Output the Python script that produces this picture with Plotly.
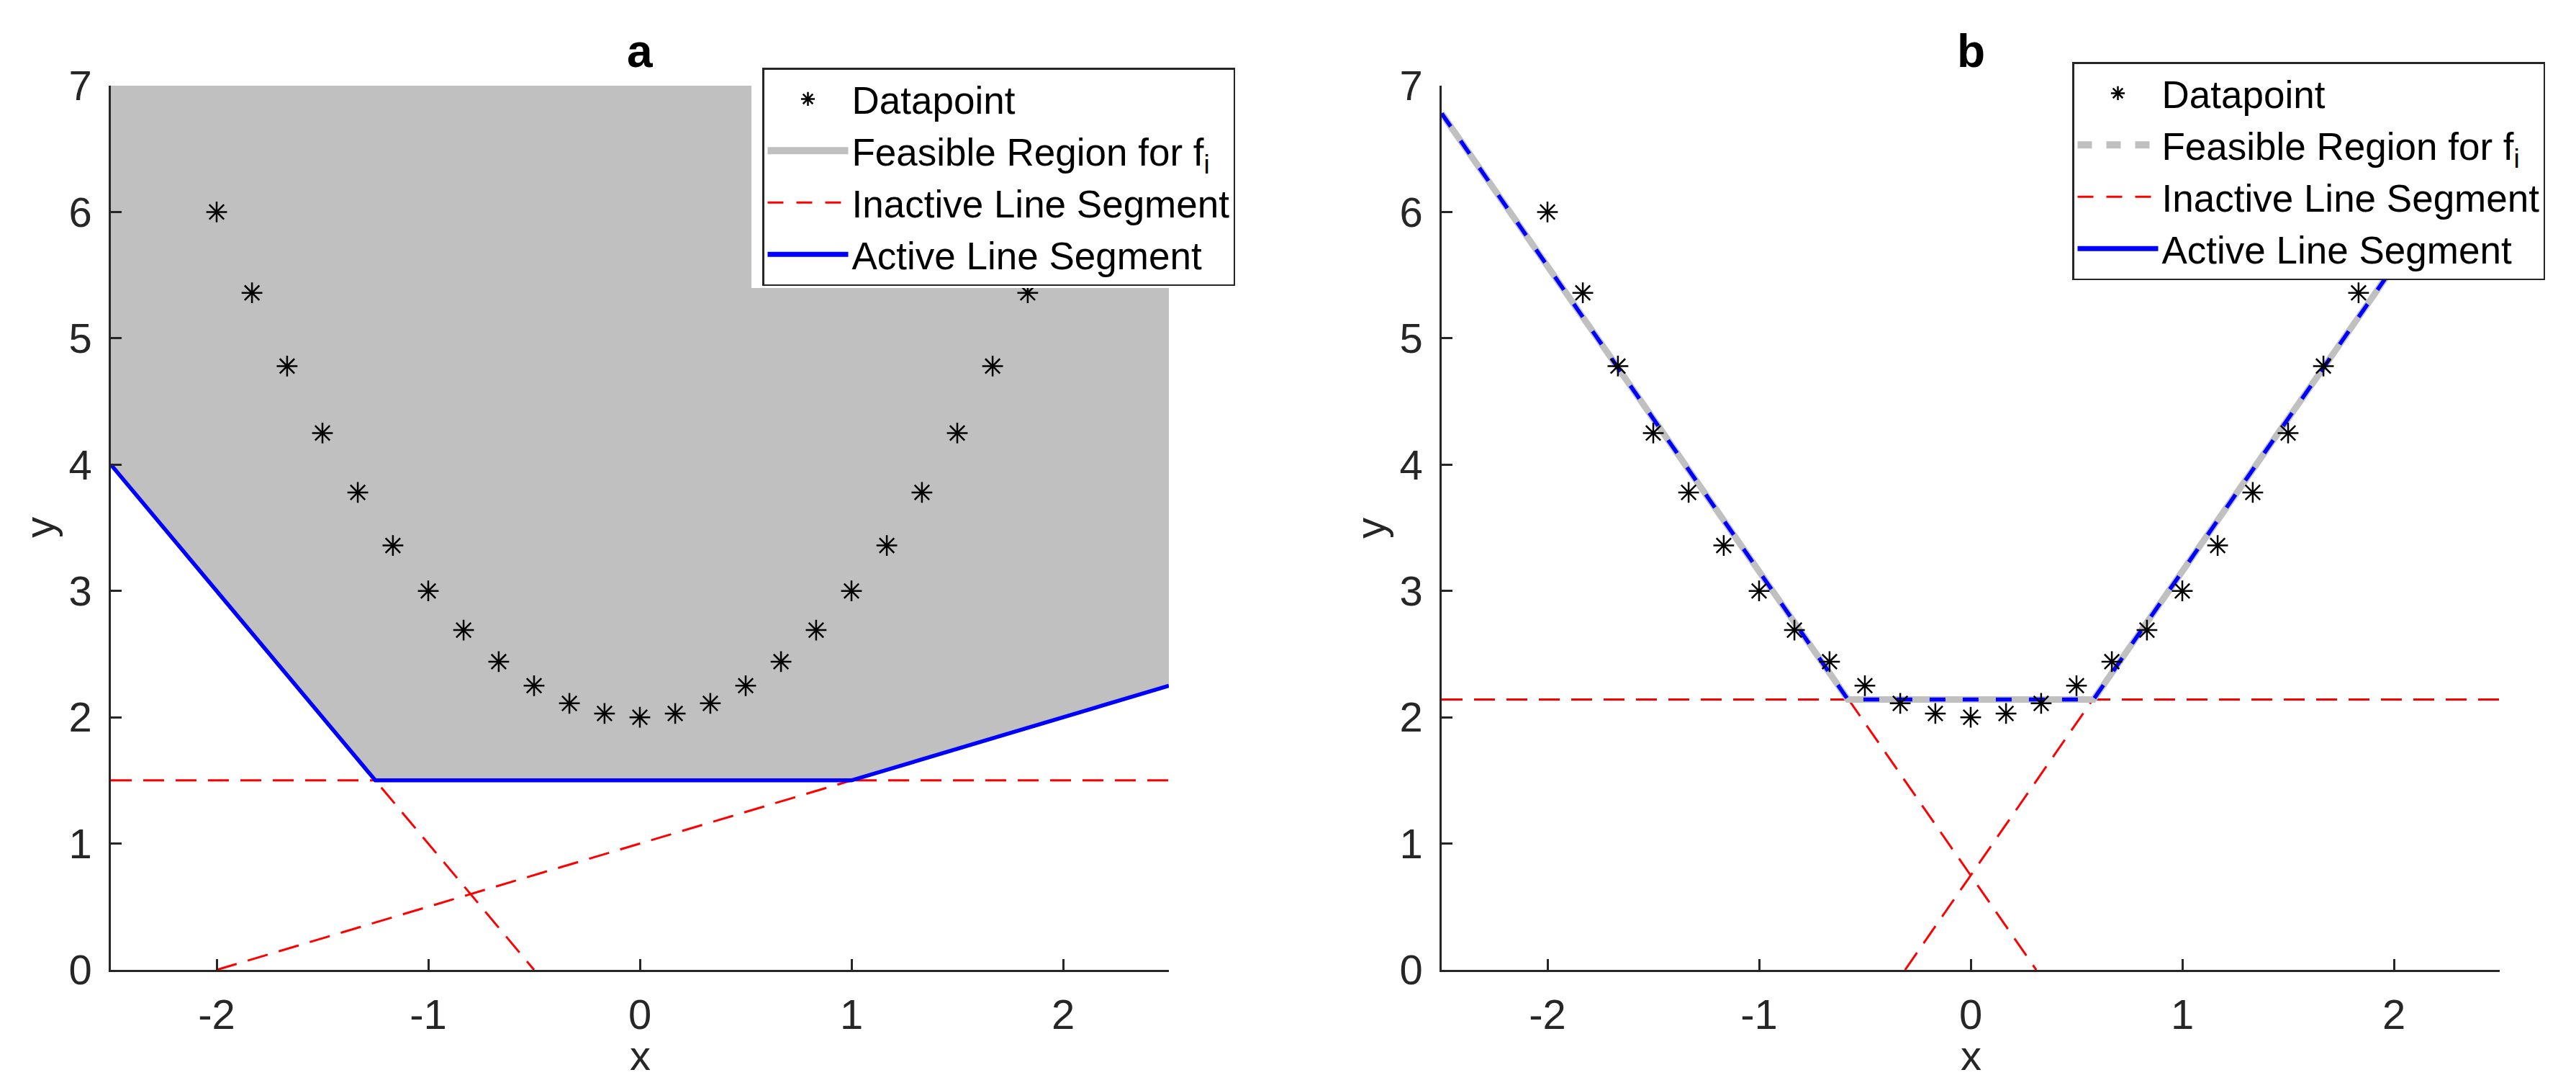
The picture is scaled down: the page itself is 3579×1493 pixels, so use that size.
import plotly.graph_objects as go

# datapoints (same in both panels)
x_data = [-2, -1.833, -1.667, -1.5, -1.333, -1.167, -1, -0.833, -0.667, -0.5, -0.333, -0.167, 0,
          0.167, 0.333, 0.5, 0.667, 0.833, 1, 1.167, 1.333, 1.5, 1.667, 1.833, 2]
y_data = [6, 5.36, 4.78, 4.25, 3.78, 3.36, 3, 2.69, 2.44, 2.25, 2.11, 2.03, 2,
          2.03, 2.11, 2.25, 2.44, 2.69, 3, 3.36, 3.78, 4.25, 4.78, 5.36, 6]

# panel a
a_region_x = [-2.5, -1.25, 1, 2.5, 2.5, -2.5]
a_region_y = [4, 1.5, 1.5, 2.25, 7, 7]
a_inactive_x = [-2.5, 2.5, None, -2.5, -0.5, None, -2, 2.5]
a_inactive_y = [1.5, 1.5, None, 4, 0, None, 0, 2.25]
a_active_x = [-2.5, -1.25, 1, 2.5]
a_active_y = [4, 1.5, 1.5, 2.25]

# panel b
b_inactive_x = [-2.5, 2.5, None, -2.5, 0.31, None, -0.31, 2.5]
b_inactive_y = [2.14, 2.14, None, 6.78, 0, None, 0, 6.78]
b_active_x = [-2.5, -0.58, 0.58, 2.5]
b_active_y = [6.78, 2.14, 2.14, 6.78]

x_ticks = [-2, -1, 0, 1, 2]
x_ticktext = ['-2', '-1', '0', '1', '2']
y_ticks = [0, 1, 2, 3, 4, 5, 6, 7]

labels = ['Datapoint', 'Feasible Region for f<sub>i</sub>', 'Inactive Line Segment', 'Active Line Segment']

W, H = 3579, 1493
FONT = 'Liberation Sans, Arial, sans-serif'
AX = '#262626'
GRAY = '#C0C0C0'
star = dict(symbol='asterisk-open', size=24, color='black', line=dict(color='black', width=2.5))

fig = go.Figure()

# ---- panel a ----
fig.add_trace(go.Scatter(x=a_region_x, y=a_region_y, fill='toself', fillcolor=GRAY,
                         mode='none', showlegend=False, xaxis='x', yaxis='y'))
fig.add_trace(go.Scatter(x=a_inactive_x, y=a_inactive_y, mode='lines',
                         line=dict(color='red', width=3, dash='29px,16px'),
                         showlegend=False, xaxis='x', yaxis='y'))
fig.add_trace(go.Scatter(x=a_active_x, y=a_active_y, mode='lines',
                         line=dict(color='blue', width=5.5),
                         showlegend=False, xaxis='x', yaxis='y'))
fig.add_trace(go.Scatter(x=x_data, y=y_data, mode='markers', name=labels[0], marker=star,
                         legend='legend', legendrank=1, xaxis='x', yaxis='y'))
fig.add_trace(go.Scatter(x=[None], y=[None], mode='lines', name=labels[1],
                         line=dict(color=GRAY, width=10), legend='legend', legendrank=2))
fig.add_trace(go.Scatter(x=[None], y=[None], mode='lines', name=labels[2],
                         line=dict(color='red', width=3, dash='22px,18px'), legend='legend', legendrank=3))
fig.add_trace(go.Scatter(x=[None], y=[None], mode='lines', name=labels[3],
                         line=dict(color='blue', width=7), legend='legend', legendrank=4))

# ---- panel b ----
fig.add_trace(go.Scatter(x=b_inactive_x, y=b_inactive_y, mode='lines',
                         line=dict(color='red', width=3, dash='29px,16px'),
                         showlegend=False, xaxis='x2', yaxis='y2'))
fig.add_trace(go.Scatter(x=b_active_x, y=b_active_y, mode='lines',
                         line=dict(color=GRAY, width=9),
                         showlegend=False, xaxis='x2', yaxis='y2'))
fig.add_trace(go.Scatter(x=b_active_x, y=b_active_y, mode='lines',
                         line=dict(color='blue', width=5.5, dash='22px,24px'),
                         showlegend=False, xaxis='x2', yaxis='y2'))
fig.add_trace(go.Scatter(x=x_data, y=y_data, mode='markers', name=labels[0], marker=star,
                         legend='legend2', legendrank=1, xaxis='x2', yaxis='y2'))
fig.add_trace(go.Scatter(x=[None], y=[None], mode='lines', name=labels[1], xaxis='x2', yaxis='y2',
                         line=dict(color=GRAY, width=10, dash='20px,20px'), legend='legend2', legendrank=2))
fig.add_trace(go.Scatter(x=[None], y=[None], mode='lines', name=labels[2], xaxis='x2', yaxis='y2',
                         line=dict(color='red', width=3, dash='22px,18px'), legend='legend2', legendrank=3))
fig.add_trace(go.Scatter(x=[None], y=[None], mode='lines', name=labels[3], xaxis='x2', yaxis='y2',
                         line=dict(color='blue', width=7), legend='legend2', legendrank=4))


def xax(dom, anchor):
    return dict(domain=dom, anchor=anchor, range=[-2.5, 2.5], tickvals=x_ticks, ticktext=x_ticktext,
                ticks='inside', ticklen=15, tickwidth=2.5, tickcolor=AX,
                showline=True, linewidth=2.5, linecolor=AX, showgrid=False, zeroline=False,
                tickfont=dict(family=FONT, size=58, color=AX), ticklabelstandoff=10)


def yax(anchor):
    return dict(domain=[154 / H, 1382 / H], anchor=anchor, range=[0, 7], tickvals=y_ticks,
                ticks='inside', ticklen=15, tickwidth=2.5, tickcolor=AX,
                showline=True, linewidth=2.5, linecolor=AX, showgrid=False, zeroline=False,
                tickfont=dict(family=FONT, size=58, color=AX), ticklabelstandoff=12)


def note(text, x, y, size=58, color=AX, angle=0, yanchor='middle'):
    return dict(text=text, x=x, y=y, xref='paper', yref='paper', showarrow=False, textangle=angle,
                xanchor='center', yanchor=yanchor, font=dict(family=FONT, size=size, color=color))


legend_style = dict(xanchor='left', yanchor='top', bgcolor='white', bordercolor=AX, borderwidth=2.5,
                    font=dict(family=FONT, size=53, color='black'), itemwidth=112, tracegroupgap=0)

fig.update_layout(
    template='none',
    width=W, height=H,
    margin=dict(l=0, r=0, t=0, b=0),
    paper_bgcolor='white', plot_bgcolor='white',
    xaxis=xax([146 / W, 1616 / W], 'y'),
    yaxis=yax('x'),
    xaxis2=xax([1995 / W, 3465 / W], 'y2'),
    yaxis2=yax('x2'),
    legend=dict(x=1051 / W, y=1 - 86 / H, **legend_style),
    legend2=dict(x=2871 / W, y=1 - 78 / H, **legend_style),
    shapes=[dict(type='rect', xref='paper', yref='paper', x0=1036 / W, x1=1622 / W,
                 y0=1 - 392 / H, y1=1, fillcolor='white', line=dict(width=0), layer='above')],
    annotations=[
        note('<b>a</b>', 881 / W, 1 - 63 / H, size=64, color='black'),
        note('<b>b</b>', 2730 / W, 1 - 63 / H, size=64, color='black'),
        note('x', 881 / W, 0.001, yanchor='bottom'),
        note('x', 2730 / W, 0.001, yanchor='bottom'),
        note('y', 46 / W, 1 - 725 / H, angle=-90),
        note('y', 1895 / W, 1 - 725 / H, angle=-90),
    ],
)

fig.write_html('out.html')
